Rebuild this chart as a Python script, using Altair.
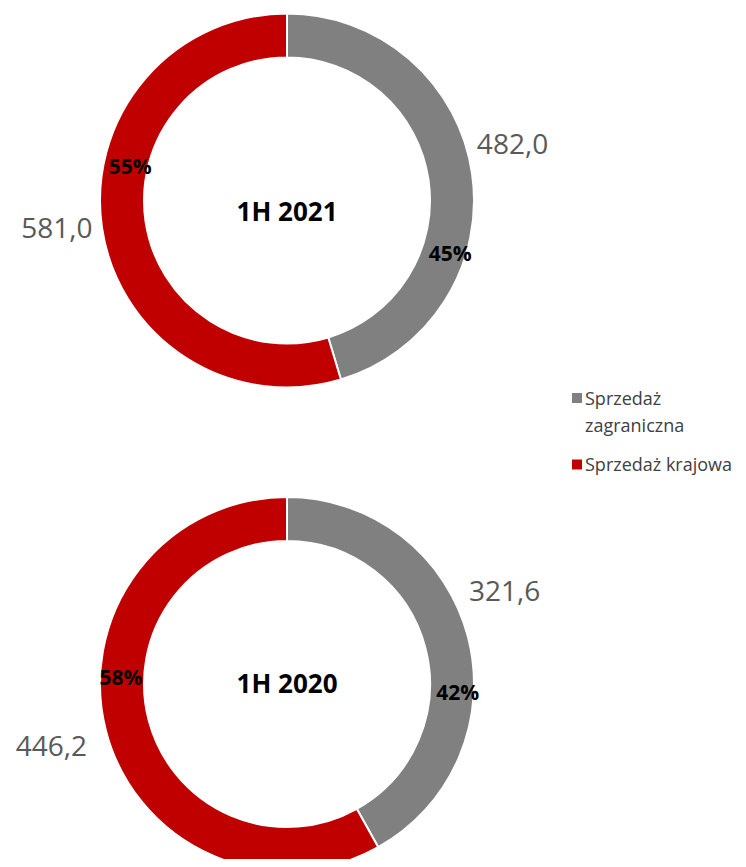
import altair as alt
import pandas as pd

# ---- data -------------------------------------------------------------
years = ["1H 2021", "1H 2020"]
series = ["Sprzedaż zagraniczna", "Sprzedaż krajowa"]
values_2021 = [482.0, 581.0]
values_2020 = [321.6, 446.2]
colors = ["#808080", "#C00000"]

rows = []
for yr, vals in zip(years, [values_2021, values_2020]):
    for k, (s, v) in enumerate(zip(series, vals)):
        rows.append({"year": yr, "series": s, "value": v, "order": k})
df = pd.DataFrame(rows)
legend_df = pd.DataFrame({"series": series})

# ---- layout -----------------------------------------------------------
W, H = 730, 851
CX = 279
CENTERS = [192.5, 676]
R_OUT, R_IN = 187, 143
FONT = "Open Sans"
LEG_X_SYM, LEG_X_TXT = 569, 577
LEG_ROWS = [390, 456.5]

# fine placement of labels: (angle shift in degrees from slice middle, radius)
PCT_PLACE = {("1H 2021", 0): (26.9, 172), ("1H 2021", 1): (20.0, 160),
             ("1H 2020", 0): (18.0, 171), ("1H 2020", 1): (16.3, 166)}
VAL_PLACE = {("1H 2021", 0): (-5.2, 232), ("1H 2021", 1): (1.1, 232),
             ("1H 2020", 0): (-8.2, 236), ("1H 2020", 1): (-0.5, 244)}
CENTER_DY = {"1H 2021": 12, "1H 2020": 1}

base = alt.Chart(df).transform_stack(
    stack="value", groupby=["year"], as_=["t0", "t1"], offset="normalize",
    sort=[alt.SortField("order", order="ascending")]
).transform_calculate(
    mid="(datum.t0 + datum.t1) / 2",
    pct="format(datum.t1 - datum.t0, '.0%')",
    val="replace(format(datum.value, '.1f'), '.', ',')",
)

ypos = alt.Y("year:N", scale=alt.Scale(domain=years, range=CENTERS, padding=0), axis=None)
theta_scale = alt.Scale(domain=[0, 1], range=[0, 6.283185307179586])
color_enc = alt.Color("series:N", scale=alt.Scale(domain=series, range=colors), legend=None)

arcs = base.mark_arc(radius=R_OUT, radius2=R_IN, stroke="white", strokeWidth=2).encode(
    x=alt.value(CX),
    y=ypos,
    theta=alt.Theta("t0:Q", scale=theta_scale),
    theta2="t1:Q",
    color=color_enc,
)

layers = [arcs]
for yr in years:
    for k in range(len(series)):
        d, r = PCT_PLACE[(yr, k)]
        layers.append(
            base.transform_filter(f"datum.year == '{yr}' && datum.order == {k}")
            .transform_calculate(a=f"datum.mid + {d} / 360")
            .mark_text(radius=r, font=FONT, fontSize=21, fontWeight="bold", color="black",
                       align="center", baseline="middle")
            .encode(x=alt.value(CX), y=ypos,
                    theta=alt.Theta("a:Q", scale=theta_scale), text="pct:N")
        )
        d, r = VAL_PLACE[(yr, k)]
        layers.append(
            base.transform_filter(f"datum.year == '{yr}' && datum.order == {k}")
            .transform_calculate(a=f"datum.mid + {d} / 360")
            .mark_text(radius=r, font=FONT, fontSize=28, color="#595959",
                       align="center", baseline="middle")
            .encode(x=alt.value(CX), y=ypos,
                    theta=alt.Theta("a:Q", scale=theta_scale), text="val:N")
        )
    layers.append(
        alt.Chart(pd.DataFrame({"year": [yr]}))
        .mark_text(font=FONT, fontSize=26, fontWeight="bold", color="black",
                   align="center", baseline="middle", dy=CENTER_DY[yr])
        .encode(x=alt.value(CX), y=ypos, text="year:N")
    )

# ---- legend (drawn from the same colour scale) -----------------------
leg_y = alt.Y("series:N", scale=alt.Scale(domain=series, range=LEG_ROWS, padding=0), axis=None)
leg_sym = alt.Chart(legend_df).mark_square(size=100, opacity=1).encode(
    x=alt.value(LEG_X_SYM), y=leg_y, color=color_enc
)
leg_txt = alt.Chart(legend_df).transform_calculate(
    lab="datum.series == 'Sprzedaż zagraniczna' ? ['Sprzedaż', 'zagraniczna'] : datum.series"
).mark_text(font=FONT, fontSize=18, color="#404040", align="left", baseline="top",
            lineHeight=27, dy=-7.5).encode(
    x=alt.value(LEG_X_TXT), y=leg_y, text="lab:N"
)
layers += [leg_sym, leg_txt]

chart = alt.layer(*layers).resolve_scale(y="independent").properties(
    width=W, height=H, padding=0,
    autosize=alt.AutoSizeParams(type="none"),
).configure_view(stroke=None)

chart.save("out.html", embed_options={"renderer": "svg", "actions": False})
